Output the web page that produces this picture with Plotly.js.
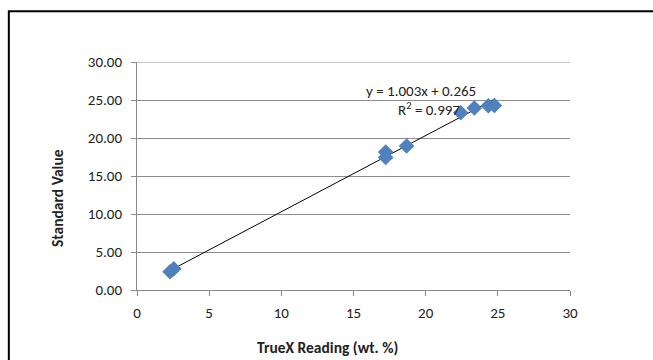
<!DOCTYPE html>
<html><head><meta charset="utf-8">
<script src="https://cdn.plot.ly/plotly-3.0.1.min.js"></script>
<style>html,body{margin:0;padding:0;background:#fff;}#chart{width:653px;height:360px;}</style>
</head><body><div id="chart"></div>
<script>
const truexReading = [2.29, 2.55, 17.23, 17.23, 18.68, 22.43, 23.37, 24.34, 24.76];
const standardValue = [2.40, 2.80, 18.15, 17.45, 18.95, 23.33, 23.95, 24.25, 24.28];
const trendSlope = 1.003;
const trendIntercept = 0.265;
const yTickVals = [0, 5, 10, 15, 20, 25, 30];
const yTickText = ['0.00', '5.00', '10.00', '15.00', '20.00', '25.00', '30.00'];
const xTickVals = [0, 5, 10, 15, 20, 25, 30];

const xMin = Math.min(...truexReading), xMax = Math.max(...truexReading);
const trendX = [xMin, xMax];
const trendY = trendX.map(x => trendSlope * x + trendIntercept);
const yTop = Math.max(...yTickVals);

const font = "Carlito, 'Liberation Sans Narrow', 'Liberation Sans', Arial, sans-serif";
const data = [
  {x: trendX, y: trendY, mode: 'lines', type: 'scatter',
   line: {color: '#000', width: 1}, hoverinfo: 'skip'},
  {x: truexReading, y: standardValue, mode: 'markers', type: 'scatter',
   marker: {symbol: 'diamond', color: '#4f81bd', size: 12}}
];
const layout = {
  width: 653, height: 360,
  margin: {l: 137, r: 83, t: 62, b: 70},
  showlegend: false,
  paper_bgcolor: '#fff', plot_bgcolor: '#fff',
  font: {family: font, size: 15, color: '#222'},
  xaxis: {range: [0, 30], tickvals: xTickVals, ticks: 'outside', ticklen: 5,
    tickcolor: '#888', showgrid: false, zeroline: false, showline: true,
    linecolor: '#888', linewidth: 1, tickfont: {size: 15}, ticklabelstandoff: 4},
  yaxis: {range: [0, 30], tickvals: yTickVals, ticktext: yTickText, ticks: 'outside',
    ticklen: 5, tickcolor: '#888', showgrid: true, gridcolor: '#8c8c8c',
    zeroline: false, showline: true, linecolor: '#888', linewidth: 1,
    tickfont: {size: 15}, ticklabelstandoff: 6},
  annotations: [
    {x: 0.655, y: 1.0, xref: 'paper', yref: 'paper', xanchor: 'center', yanchor: 'middle',
     text: 'y = 1.003x + 0.265', showarrow: false, font: {size: 15, color: '#222'}, yshift: -29},
    {x: 0.674, y: 1.0, xref: 'paper', yref: 'paper', xanchor: 'center', yanchor: 'middle',
     text: 'R<sup>2</sup> = 0.997', showarrow: false, font: {size: 15, color: '#222'}, yshift: -47},
    {x: 0.44, y: 0, xref: 'paper', yref: 'paper', xanchor: 'center', yanchor: 'middle',
     text: '<b>TrueX Reading (wt. %)</b>', showarrow: false, font: {size: 15.5, color: '#222'}, yshift: -57},
    {x: 0, y: 0.5, xref: 'paper', yref: 'paper', xanchor: 'center', yanchor: 'middle',
     text: '<b>Standard Value</b>', showarrow: false, textangle: -90, font: {size: 15.5, color: '#222'},
     xshift: -80, yshift: -22}
  ],
  shapes: [
    {type: 'line', xref: 'paper', yref: 'y', x0: 0, x1: 1, y0: yTop, y1: yTop,
     line: {color: '#8c8c8c', width: 1}, layer: 'below'},
    {type: 'rect', xref: 'paper', yref: 'paper', x0: -0.296, x1: 1.3, y0: -0.4, y1: 1.223,
     line: {color: '#000', width: 2}, fillcolor: 'rgba(0,0,0,0)', layer: 'below'}
  ]
};
Plotly.newPlot('chart', data, layout, {displayModeBar: false, staticPlot: true});
</script></body></html>
